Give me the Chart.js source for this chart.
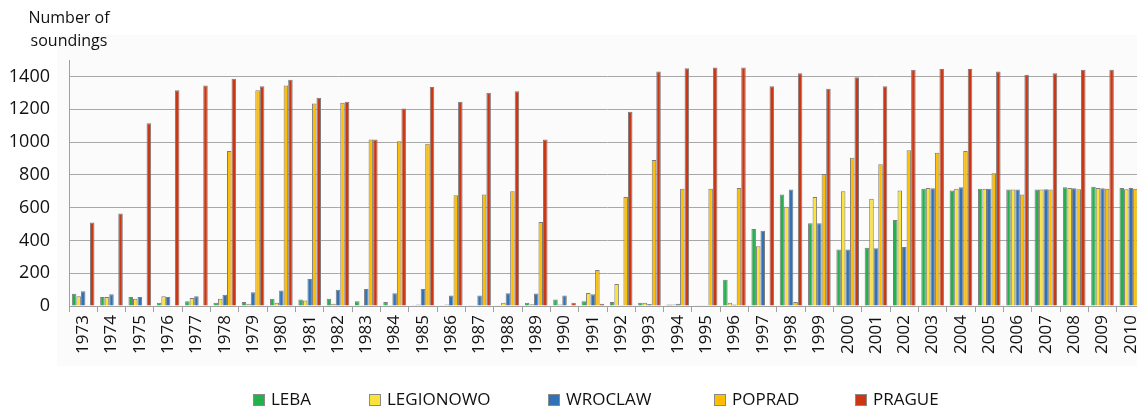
<!DOCTYPE html>
<html>
<head>
<meta charset="utf-8">
<script src="https://cdn.jsdelivr.net/npm/chart.js@4/dist/chart.umd.min.js"></script>
<style>
  body { margin: 0; background: #fff; overflow: hidden; }
  #wrap { position: relative; width: 1160px; height: 407px; }
  #title {
    position: absolute; left: 18px; top: 6px; width: 102px;
    text-align: center; font: 16px "Open Sans", sans-serif; line-height: 23px; color: #111;
  }
  .lg {
    position: absolute; top: 389px; font: 17px "Open Sans", sans-serif; color: #111;
    white-space: nowrap; line-height: 20px;
  }
  .lg i {
    display: inline-block; width: 10px; height: 10px; border: 1px solid #8a8a8a;
    margin-right: 6px; vertical-align: -1px;
  }
</style>
</head>
<body>
<div id="wrap">
  <canvas id="soundings" width="1160" height="407"></canvas>
  <div id="title">Number of<br>soundings</div>
  <div id="legend"></div>
</div>
<script>
// data
const years = ['1973','1974','1975','1976','1977','1978','1979','1980','1981','1982',
  '1983','1984','1985','1986','1987','1988','1989','1990','1991','1992',
  '1993','1994','1995','1996','1997','1998','1999','2000','2001','2002',
  '2003','2004','2005','2006','2007','2008','2009','2010'];

const leba = [75,55,55,20,30,20,25,45,40,45, 30,25,5,3,2,3,20,40,30,25,
  20,10,6,160,470,680,505,345,355,525, 715,705,715,710,710,725,727,720];
const legionowo = [60,55,45,60,50,45,15,20,35,15, 5,5,10,10,2,20,12,10,80,135,
  20,10,5,20,365,605,665,700,655,705, 720,715,715,710,710,720,720,712];
const wroclaw = [90,72,55,55,60,70,85,95,165,100, 105,78,105,65,65,78,77,65,72,2,
  13,15,5,10,460,710,505,345,352,360, 718,725,715,710,712,718,718,720];
const poprad = [0,0,0,0,0,945,1315,1345,1235,1240, 1015,1005,990,675,680,700,512,0,220,665,
  890,715,715,720,0,25,805,905,865,950, 935,945,810,680,710,712,716,715];
const prague = [510,565,1115,1315,1345,1385,1340,1380,1270,1245, 1015,1205,1335,1245,1300,1310,1015,20,15,1185,
  1430,1450,1455,1455,1340,1420,1325,1395,1340,1440, 1445,1445,1430,1410,1420,1440,1440,1440];

const seriesNames = ['LEBA','LEGIONOWO','WROCLAW','POPRAD','PRAGUE'];
const seriesColors = ['#22b14c','#fbe33a','#2f72b8','#ffbf00','#cc3612'];
const legendLeft = [253, 369, 548, 714, 855];

const font = '"Open Sans", sans-serif';

const plotBg = {
  id: 'plotBg',
  beforeDraw(chart) {
    const { ctx, chartArea } = chart;
    ctx.save();
    ctx.fillStyle = '#fbfbfb';
    ctx.fillRect(chartArea.left - 12, chartArea.top - 25, chartArea.right, chartArea.bottom - chartArea.top + 85);
    ctx.restore();
  }
};

const allValues = [leba, legionowo, wroclaw, poprad, prague];

new Chart(document.getElementById('soundings'), {
  type: 'bar',
  data: {
    labels: years,
    datasets: seriesNames.map((name, i) => ({
      label: name,
      data: allValues[i],
      backgroundColor: seriesColors[i],
      borderColor: '#7d7d7d',
      borderWidth: 1,
      categoryPercentage: 0.8,
      barPercentage: 1.0
    }))
  },
  options: {
    responsive: false,
    animation: false,
    layout: { padding: { left: 10, top: 60, right: 15, bottom: 50 } },
    plugins: {
      legend: { display: false },
      tooltip: { enabled: false }
    },
    scales: {
      x: {
        afterFit: scale => { scale.paddingLeft = 0; scale.paddingRight = 0; },
        grid: { drawOnChartArea: false, drawTicks: true, tickLength: 6, color: '#a0a0a0', offset: true },
        border: { color: '#a0a0a0' },
        ticks: { minRotation: 90, maxRotation: 90, padding: 3, color: '#111', font: { family: font, size: 17 } }
      },
      y: {
        min: 0,
        max: 1500,
        afterBuildTicks: axis => { axis.ticks = axis.ticks.filter(t => t.value % 200 === 0); },
        afterFit: scale => { scale.width = 59; },
        grid: { color: '#a8a8a8', drawTicks: false },
        border: { color: '#a0a0a0' },
        ticks: {
          stepSize: 100, padding: 19, color: '#111', font: { family: font, size: 18 },
          callback: v => String(v)
        }
      }
    }
  },
  plugins: [plotBg]
});

const legend = document.getElementById('legend');
seriesNames.forEach((name, i) => {
  const item = document.createElement('div');
  item.className = 'lg';
  item.style.left = legendLeft[i] + 'px';
  item.innerHTML = '<i style="background:' + seriesColors[i] + '"></i>' + name;
  legend.appendChild(item);
});
</script>
</body>
</html>
